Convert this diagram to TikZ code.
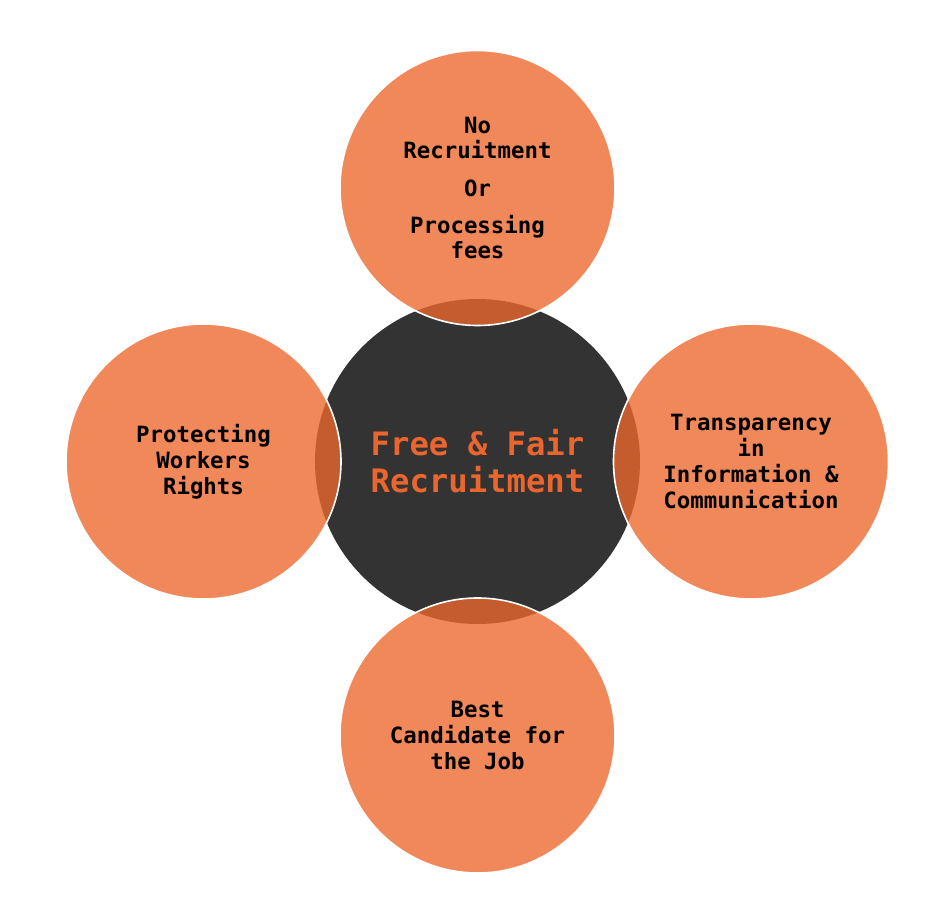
\documentclass[tikz,border=0pt]{standalone}
\usepackage{fontspec}
\newfontfamily\monofnt{DejaVu Sans Mono}
\definecolor{hubgray}{RGB}{51,51,51}
\definecolor{petal}{RGB}{236,104,44}
\definecolor{hubtext}{RGB}{234,102,46}
\begin{document}
\begin{tikzpicture}[x=0.75pt,y=-0.75pt,
  hub/.style={circle,fill=hubgray,minimum size=243.75pt,inner sep=0pt,align=center,
    text=hubtext,font=\monofnt\bfseries\fontsize{24.2}{27.75}\selectfont},
  petalc/.style={circle,fill=petal,fill opacity=0.79,text opacity=1,draw=white,line width=1.2pt,
    minimum size=206.25pt,inner sep=0pt,align=center,text=black,
    font=\monofnt\bfseries\fontsize{16.8}{19.3}\selectfont}]
\useasboundingbox (0,0) rectangle (946,920);
\node[hub] (hub) at (477.5,461.5) {Free \& Fair\\Recruitment};
\node[petalc] (top) at (477.5,188) {No\\Recruitment\\[8.5pt]Or\\[8.5pt]Processing\\fees};
\node[petalc] (left) at (203.5,461.5) {Protecting\\Workers\\Rights};
\node[petalc] (right) at (751,461.5) {Transparency\\in\\Information \&\\Communication};
\node[petalc] (bottom) at (477.5,735.5) {Best\\Candidate for\\the Job};
\end{tikzpicture}
\end{document}
